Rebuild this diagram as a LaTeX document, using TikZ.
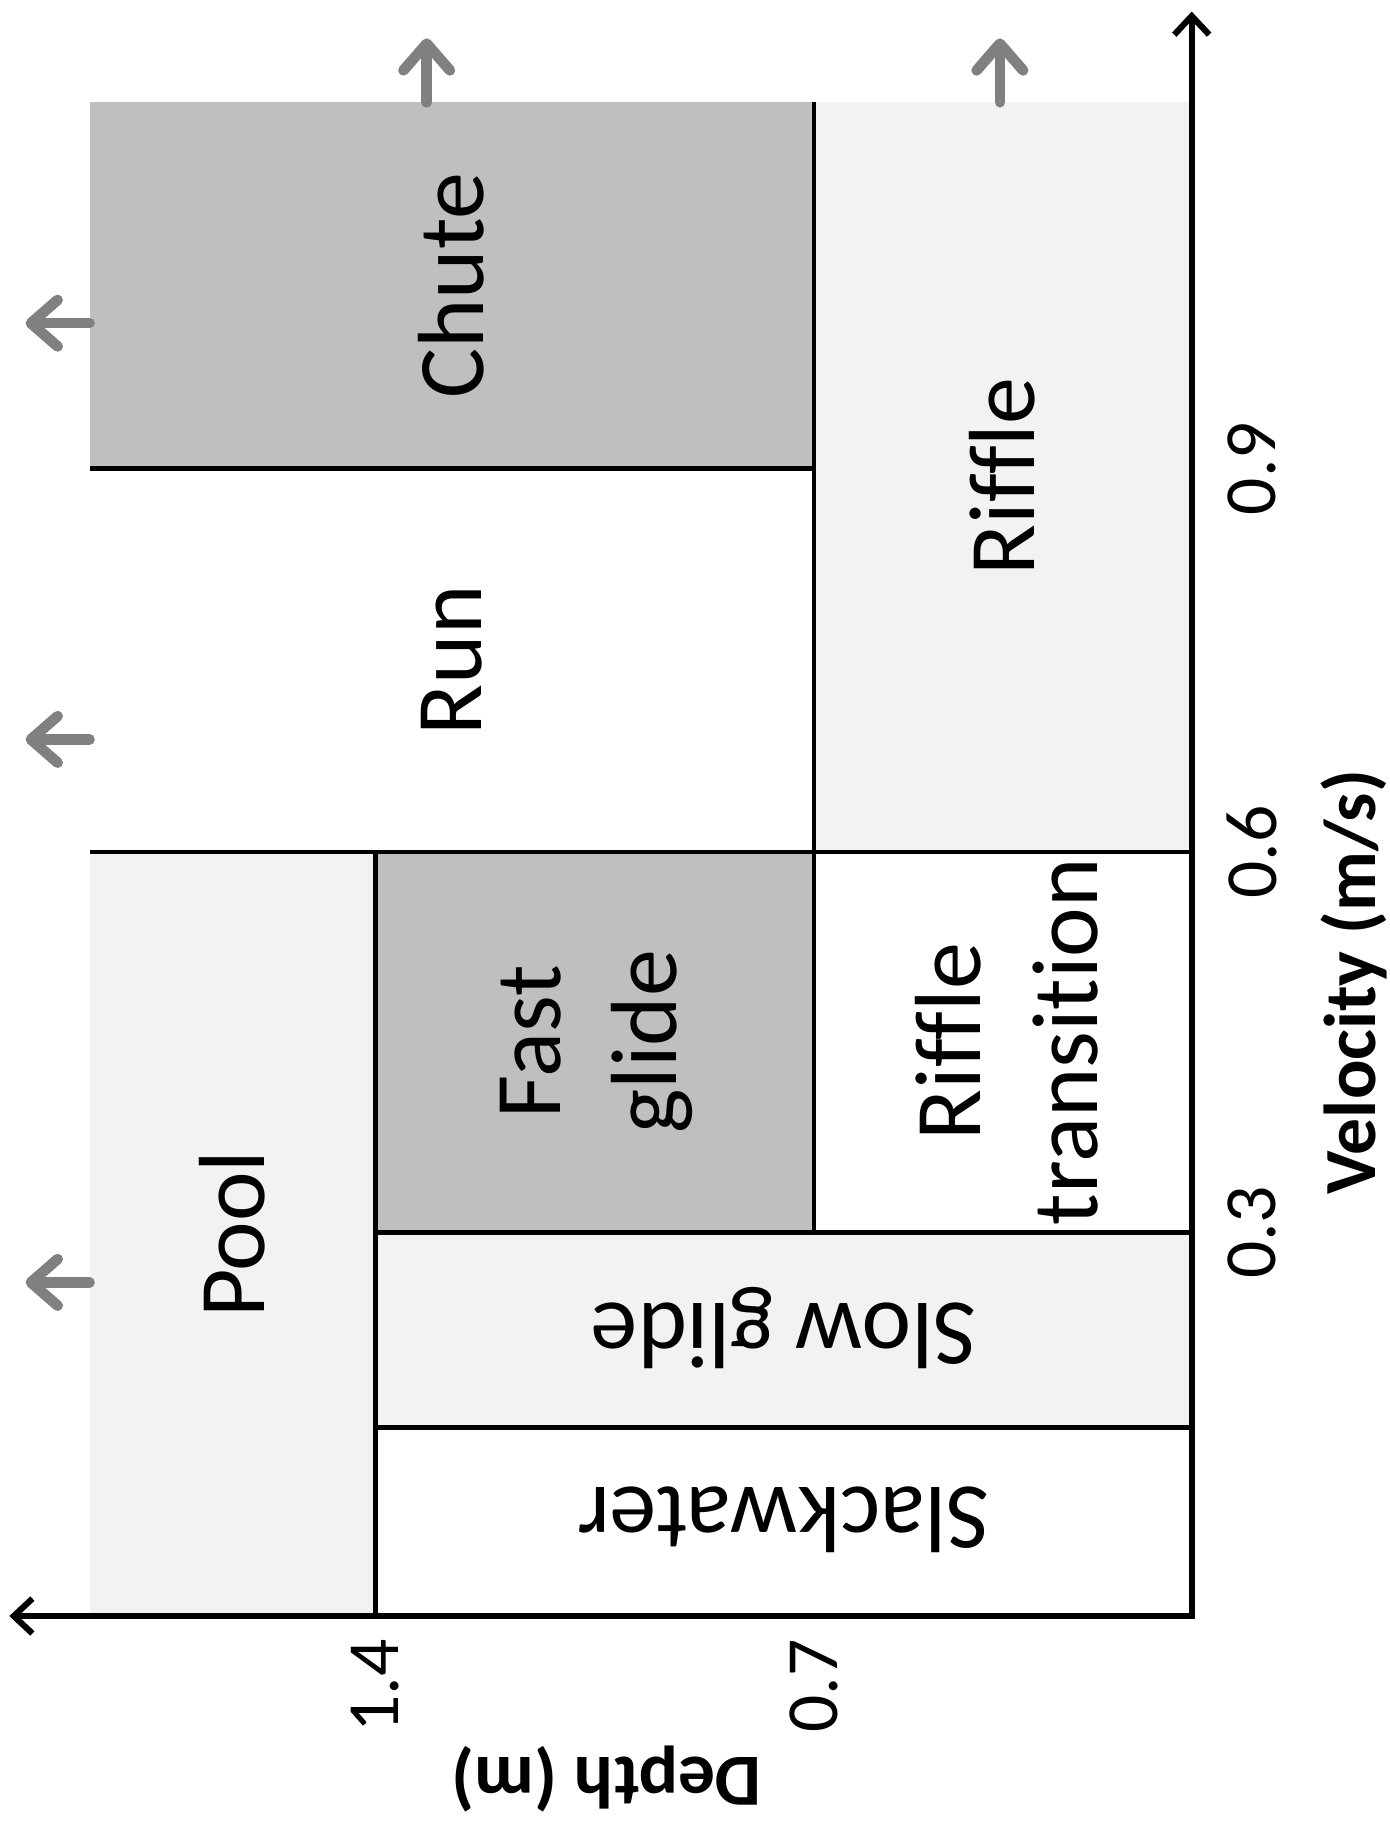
\documentclass[tikz,border=0pt]{standalone}
\usepackage{fontspec}
\setmainfont{Carlito}[Ligatures=NoCommon]
\usetikzlibrary{arrows.meta}
\definecolor{zoneMid}{HTML}{BFBFBF}
\definecolor{zoneLight}{HTML}{F2F2F2}
\definecolor{shiftGray}{HTML}{808080}

\begin{document}
\begin{tikzpicture}[
  zone/.style={rotate=90,align=center,font=\fontsize{23}{28.5}\selectfont},
  zoneflip/.style={rotate=180,font=\fontsize{23}{28.5}\selectfont},
  ticklabel/.style={rotate=90,font=\fontsize{18}{21}\selectfont},
  axislabel/.style={font=\bfseries\fontsize{18}{22}\selectfont},
  border/.style={line width=1.1pt},
  axisline/.style={line width=1.5pt,{Straight Barb[length=1.6mm,width=3mm]}-{Straight Barb[length=1.6mm,width=3mm]}},
  shiftarrow/.style={shiftGray,line width=2.6pt,line cap=round,
    -{Straight Barb[length=2.3mm,width=4mm,line cap=round,line join=round]}}]
  \useasboundingbox (0,0) rectangle (11.95,15.68);
  \fill[zoneMid] (0.77,11.65) rectangle (7.00,14.80);
  \fill[zoneLight] (7.00,8.35) rectangle (10.25,14.80);
  \fill[zoneLight] (0.77,1.78) rectangle (3.23,8.35);
  \fill[zoneMid] (3.23,5.08) rectangle (7.00,8.35);
  \fill[zoneLight] (3.23,3.40) rectangle (10.25,5.08);
  \draw[border] (0.77,11.65) -- (7.00,11.65);
  \draw[border] (0.77,8.35) -- (10.25,8.35);
  \draw[border] (7.00,14.80) -- (7.00,5.08);
  \draw[border] (3.23,8.35) -- (3.23,1.78);
  \draw[border] (3.23,5.08) -- (10.25,5.08);
  \draw[border] (3.23,3.40) -- (10.25,3.40);
  \draw[axisline] (0.08,1.78) -- (10.25,1.78) -- (10.25,15.58);
  \draw[shiftarrow] (0.77,12.90) -- (0.22,12.90);
  \draw[shiftarrow] (0.77,9.32) -- (0.22,9.32);
  \draw[shiftarrow] (0.77,4.65) -- (0.22,4.65);
  \draw[shiftarrow] (3.67,14.80) -- (3.67,15.35);
  \draw[shiftarrow] (8.60,14.80) -- (8.60,15.35);
  \node[zone] (chute) at (3.885,13.225) {Chute};
  \node[zone] (run) at (3.885,10.00) {Run};
  \node[zone] (riffle) at (8.62,11.58) {Riffle};
  \node[zone] (pool) at (2.00,5.065) {Pool};
  \node[zone] (fastglide) at (5.13,6.72) {Fast\\glide};
  \node[zone] (riffletrans) at (8.66,6.72) {Riffle\\transition};
  \node[zoneflip] (slowglide) at (6.74,4.26) {Slow glide};
  \node[zoneflip] (slackwater) at (6.74,2.61) {Slackwater};
  \node[ticklabel] (depthA) at (3.23,1.18) {1.4};
  \node[ticklabel] (depthB) at (7.00,1.18) {0.7};
  \node[ticklabel] (velA) at (10.77,5.08) {0.3};
  \node[ticklabel] (velB) at (10.77,8.35) {0.6};
  \node[ticklabel] (velC) at (10.77,11.65) {0.9};
  \node[axislabel,rotate=90] (velname) at (11.65,7.23) {Velocity (m/s)};
  \node[axislabel,rotate=180] (depthname) at (5.22,0.38) {Depth (m)};
\end{tikzpicture}
\end{document}
